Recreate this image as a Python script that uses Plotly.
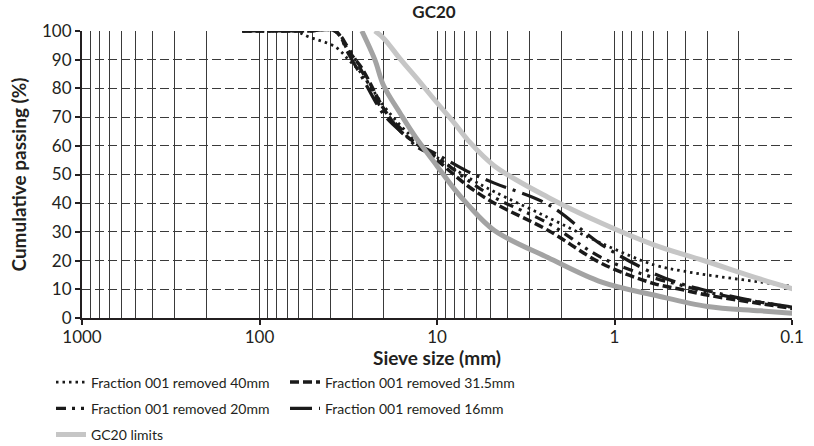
import plotly.graph_objects as go

# ---- data ----
sieve_mm = [125, 100, 75, 63, 53, 37.5, 31.5, 26.5, 20, 16, 13.2, 10, 6.7,
            4.75, 2.36, 1.18, 0.6, 0.425, 0.3, 0.15, 0.075]
removed_40 = [100, 100, 100, 100, 98, 94.5, 90, 85, 74, 67, 62, 56, 49,
              44, 35, 26, 18.5, 16.5, 15, 12.5, 10]
removed_31_5 = [100, 100, 100, 100, 100, 100, 93, 87, 73, 65, 61, 55, 46,
                40, 30.5, 19, 12, 10, 8, 5, 2.2]
removed_20 = [100, 100, 100, 100, 100, 100, 94, 86, 72, 66, 60, 56, 48,
              42, 33, 21, 14, 11.5, 9, 5.5, 2.6]
removed_16 = [100, 100, 100, 100, 100, 100, 92, 84, 71, 65, 61, 57, 51,
              47, 39.5, 25.5, 15.5, 12, 9.5, 5.5, 2.9]

upper_sizes = [22.4, 20, 16, 13.2, 10, 8, 6.7, 4.75, 2.36, 1.18, 0.6, 0.3, 0.15, 0.075]
upper_limit = [100, 97.5, 90, 84, 75, 68, 62, 53, 42, 33, 25.5, 19.6, 13.5, 8]
lower_sizes = [26.5, 22.4, 20, 16, 13.2, 10, 8, 6.7, 4.75, 2.36, 1.18, 0.6,
               0.3, 0.15, 0.075]
lower_limit = [100, 90, 81, 71, 63, 53, 45, 39.5, 30.5, 21, 12.5, 8, 4, 2.5, 1.0]

decade_ticks = [1000, 100, 10, 1, 0.1]
decade_labels = ["1000", "100", "10", "1", "0.1"]
minor_ticks = [m * d for d in (100, 10, 1, 0.1) for m in range(2, 10)]

TXT = "#231f20"
X_TICK_FONT = dict(family="Lato, 'Open Sans', sans-serif", size=17, color=TXT)
Y_TICK_FONT = dict(family="Lato, 'Open Sans', sans-serif", size=17, color=TXT)
LEG_FONT = dict(family="Lato, sans-serif", size=14, color=TXT)
TITLE_FONT = dict(family="Lato, sans-serif", size=19, color=TXT)
GRID = "#3a3a3a"

fig = go.Figure()

black_series = [
    ("Fraction 001 removed 40mm", removed_40, "2.5px,4px", 2.8, "legend", "g1"),
    ("Fraction 001 removed 31.5mm", removed_31_5, "9px,4px", 3.5, "legend2", "g2"),
    ("Fraction 001 removed 20mm", removed_20, "10px,6px,3px,6px,3px,6px", 3.2, "legend", "g3"),
    ("Fraction 001 removed 16mm", removed_16, "22px,7px,3px,7px", 3.2, "legend2", "g4"),
]
for name, vals, dash, w, leg, grp in black_series:
    fig.add_trace(go.Scatter(
        x=sieve_mm, y=vals, mode="lines", name=name,
        line=dict(color="#1a1a1a", width=w, dash=dash, shape="spline"),
        legend=leg, legendgroup=grp))

fig.add_trace(go.Scatter(
    x=lower_sizes, y=lower_limit, mode="lines", name="GC20 limits",
    line=dict(color="#a3a3a3", width=5, shape="spline"),
    legend="legend", legendgroup="g5", showlegend=False))
fig.add_trace(go.Scatter(
    x=upper_sizes, y=upper_limit, mode="lines", name="GC20 limits",
    line=dict(color="#c6c6c6", width=5, shape="spline"),
    legend="legend", legendgroup="g5"))

PW, PH = 710.0, 287.0  # plot area size in px
leg_y = (318 - 366.5) / PH

fig.update_layout(
    width=814, height=446,
    margin=dict(l=82, r=22, t=31, b=128, autoexpand=False),
    paper_bgcolor="white", plot_bgcolor="white",
    title=dict(text="<b>GC20</b>", x=434 / 814, xanchor="center", y=1 - 12 / 446,
               yanchor="middle",
               font=dict(family="Lato, sans-serif", size=17, color=TXT)),
    legend=dict(orientation="v", x=(51 - 82) / PW, xanchor="left",
                y=leg_y, yanchor="top",
                font=LEG_FONT, tracegroupgap=5, traceorder="grouped",
                bgcolor="rgba(0,0,0,0)"),
    legend2=dict(orientation="v", x=(285 - 82) / PW, xanchor="left",
                 y=leg_y, yanchor="top",
                 font=LEG_FONT, tracegroupgap=5, traceorder="grouped",
                 bgcolor="rgba(0,0,0,0)"),
    showlegend=True,
    annotations=[dict(text="<b>Sieve size (mm)</b>", xref="paper", yref="paper",
                      x=0.5, xanchor="center", y=(318 - 357) / PH, yanchor="middle",
                      showarrow=False, font=TITLE_FONT)],
)

fig.update_xaxes(
    type="log", range=[3, -1], automargin=False,
    tickmode="array", tickvals=decade_ticks, ticktext=decade_labels,
    ticks="outside", ticklen=5, tickcolor=TXT, tickwidth=1.5,
    tickfont=X_TICK_FONT, ticklabelstandoff=-2,
    showgrid=True, gridcolor=GRID, gridwidth=1,
    minor=dict(tickmode="array", tickvals=minor_ticks, showgrid=True,
               gridcolor=GRID, gridwidth=1, ticks=""),
    showline=True, linecolor=TXT, linewidth=2,
    zeroline=False,
)
fig.update_yaxes(
    range=[0, 100], tickmode="linear", tick0=0, dtick=10, automargin=False,
    ticks="outside", ticklen=5, tickcolor=TXT, tickwidth=1.5,
    tickfont=Y_TICK_FONT,
    showgrid=True, gridcolor=GRID, gridwidth=1, griddash="9px,4px",
    showline=True, linecolor=TXT, linewidth=2,
    zeroline=False,
    title=dict(text="<b>Cumulative passing (%)</b>", standoff=10,
               font=TITLE_FONT),
)

# remove the browser's default 8px page margin so the 814x446 figure fills the window
fig.write_html("out.html",
               config={"displayModeBar": False},
               post_script="document.body.style.margin='0';"
                           "document.body.style.overflow='hidden';")
